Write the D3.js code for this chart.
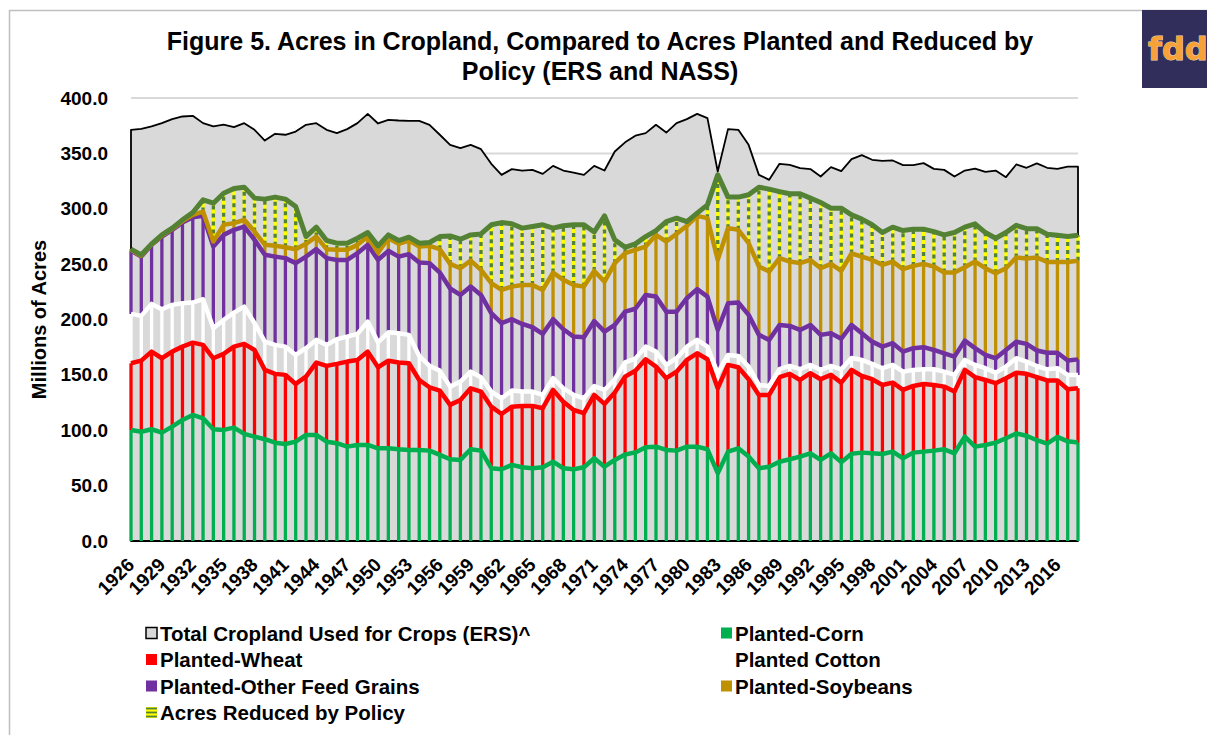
<!DOCTYPE html>
<html>
<head>
<meta charset="utf-8">
<script src="https://cdn.jsdelivr.net/npm/d3@7/dist/d3.min.js"></script>
<style>
    body { margin: 0; background: #fff; }
    svg text { font-family: "Liberation Sans", Arial, sans-serif; font-weight: bold; fill: #000; }
</style>
</head>
<body>
<svg id="chart" width="1207" height="735"></svg>
<script>
/*
 Data (millions of acres)
 */
var years = d3.range(1926, 2019);
var yTicks = [0, 50, 100, 150, 200, 250, 300, 350, 400];

var totalCropland = [
    371.3, 372.2, 374.3, 377.3, 380.9, 383.3, 383.9, 377.3, 374.3, 376.0,
    373.7, 377.3, 371.3, 361.6, 367.7, 366.8, 369.7, 375.8, 377.3, 371.3,
    368.3, 371.9, 377.3, 385.7, 377.0, 380.3, 379.7, 379.4, 379.4, 375.8,
    366.8, 357.7, 354.7, 357.7, 353.8, 340.6, 330.6, 335.8, 334.5, 335.1,
    331.5, 338.7, 334.5, 332.7, 330.6, 338.7, 334.5, 351.7, 360.0, 366.0,
    368.3, 375.8, 368.8, 377.3, 380.9, 385.7, 381.8, 333.6, 371.9, 371.3,
    357.7, 330.6, 326.1, 340.6, 339.7, 336.7, 335.8, 329.1, 337.6, 334.0,
    344.8, 348.4, 344.2, 343.3, 343.6, 339.4, 339.4, 341.2, 336.0, 335.1,
    329.1, 334.5, 336.3, 333.3, 334.5, 328.5, 340.0, 337.0, 341.0, 337.0,
    336.0, 338.0, 338.0];

var corn = [
    100.3, 98.7, 100.9, 97.8, 103.3, 109.3, 113.8, 110.8, 100.9, 100.3,
    102.4, 96.7, 94.2, 91.9, 88.8, 87.6, 89.7, 95.8, 95.8, 89.7,
    88.3, 85.2, 86.7, 86.7, 83.7, 83.7, 82.8, 82.2, 82.2, 81.6,
    77.7, 73.8, 73.2, 82.8, 81.6, 65.7, 64.8, 68.7, 66.6, 65.7,
    66.6, 71.6, 65.7, 64.8, 66.6, 74.7, 67.1, 73.2, 78.1, 80.0,
    84.6, 85.2, 82.2, 81.6, 85.2, 85.2, 82.8, 61.2, 80.7, 83.7,
    76.2, 65.7, 67.1, 71.6, 73.8, 76.2, 79.2, 73.2, 79.2, 71.2,
    78.8, 79.8, 79.2, 78.6, 80.7, 74.7, 79.8, 80.7, 81.6, 82.8,
    79.2, 94.2, 85.2, 86.7, 88.8, 92.8, 97.0, 95.0, 91.0, 88.0,
    94.0, 90.0, 89.0];

var wheat = [
    60.2, 64.2, 70.1, 67.2, 67.7, 66.2, 65.3, 66.3, 64.1, 68.6,
    73.1, 81.3, 78.3, 62.6, 62.1, 62.4, 52.1, 52.6, 65.3, 68.4,
    71.6, 76.8, 76.8, 84.3, 73.2, 79.1, 78.3, 78.3, 63.2, 57.2,
    58.1, 49.1, 54.2, 55.1, 53.3, 55.6, 49.9, 52.6, 55.4, 56.3,
    53.3, 64.8, 60.1, 53.5, 48.8, 57.2, 56.7, 60.8, 70.3, 73.7,
    79.5, 72.3, 64.8, 71.3, 78.3, 84.3, 81.3, 76.7, 78.3, 73.2,
    69.9, 66.2, 64.8, 76.3, 77.1, 69.2, 72.3, 72.9, 70.8, 71.8,
    75.7, 69.2, 66.9, 62.3, 62.3, 61.7, 60.2, 61.1, 59.3, 56.6,
    55.7, 60.3, 62.7, 58.7, 53.7, 54.2, 55.0, 56.0, 57.0, 57.0,
    51.0, 47.0, 49.0];

var cotton = [
    44.6, 40.4, 43.1, 44.3, 42.2, 39.2, 36.2, 41.2, 27.1, 30.7,
    30.7, 33.6, 24.2, 25.5, 26.2, 25.5, 26.2, 25.7, 20.5, 19.0,
    22.3, 22.6, 23.5, 27.1, 22.4, 25.6, 26.5, 25.6, 21.7, 19.3,
    18.0, 16.5, 16.5, 15.0, 13.0, 13.6, 14.2, 14.5, 12.9, 12.9,
    12.0, 10.6, 12.1, 13.6, 13.5, 8.0, 12.6, 12.1, 12.8, 11.0,
    11.4, 13.5, 12.0, 12.1, 12.0, 12.1, 11.4, 13.6, 9.0, 10.2,
    11.4, 9.0, 8.1, 7.2, 7.2, 9.7, 7.5, 8.4, 8.1, 12.0,
    10.8, 14.5, 13.8, 15.1, 16.0, 16.5, 14.5, 13.3, 14.2, 13.5,
    15.1, 9.0, 11.1, 10.6, 9.5, 10.5, 13.0, 11.0, 10.0, 10.0,
    11.0, 13.0, 12.0];

var feedGrains = [
    57.1, 53.5, 53.3, 65.6, 67.8, 72.8, 77.1, 75.3, 73.8, 76.8,
    74.8, 72.3, 75.2, 78.4, 79.7, 79.9, 82.9, 82.7, 81.9, 78.3,
    71.6, 69.2, 72.9, 69.3, 74.5, 73.6, 69.2, 72.9, 84.3, 92.8,
    88.6, 88.6, 78.3, 76.8, 74.3, 70.8, 67.8, 64.5, 61.1, 58.1,
    55.1, 53.3, 53.3, 52.7, 55.1, 58.7, 52.7, 49.0, 45.9, 45.0,
    46.7, 49.7, 48.1, 42.1, 43.7, 45.8, 45.2, 39.1, 46.7, 48.2,
    46.7, 45.2, 41.6, 40.0, 36.1, 35.5, 36.1, 31.6, 29.5, 27.6,
    29.8, 24.1, 20.1, 19.5, 19.6, 18.1, 19.6, 19.9, 17.4, 16.6,
    16.5, 17.4, 15.1, 12.0, 13.0, 15.0, 15.0, 16.0, 14.0, 15.0,
    14.0, 13.0, 14.0];

var soybeans = [
    0.8, 0.8, 0.5, 0.8, 0.8, 1.3, 2.1, 3.9, 4.5, 9.1,
    6.0, 6.1, 7.5, 9.0, 9.7, 9.9, 12.6, 11.5, 11.4, 8.1,
    9.1, 9.1, 7.5, 7.5, 6.6, 11.4, 11.5, 12.3, 14.5, 15.6,
    21.1, 22.2, 24.1, 23.5, 22.6, 27.1, 30.0, 29.4, 35.2, 38.2,
    39.7, 42.1, 44.6, 46.6, 45.7, 45.2, 45.1, 55.8, 52.8, 53.1,
    43.7, 55.7, 63.3, 70.2, 65.4, 66.2, 70.8, 63.2, 67.8, 65.7,
    64.7, 61.7, 61.7, 60.3, 58.1, 60.3, 58.7, 60.2, 62.6, 61.4,
    64.5, 69.2, 73.8, 73.8, 73.7, 74.4, 74.3, 75.2, 75.3, 72.9,
    75.9, 66.3, 78.2, 78.3, 76.8, 73.8, 76.0, 77.0, 84.0, 82.0,
    82.0, 89.0, 89.0];

var reducedByPolicy = [
    0.5, 0.8, 0.4, 0.7, 0.7, 1.2, 2.1, 10.5, 34.6, 28.5,
    31.3, 29.5, 30.2, 41.3, 44.0, 43.4, 38.5, 6.6, 8.5, 7.8,
    6.0, 6.0, 6.0, 3.6, 6.1, 3.0, 3.0, 3.0, 3.0, 3.0,
    11.4, 25.3, 26.2, 23.2, 32.5, 52.7, 60.8, 56.7, 51.3, 52.7,
    58.8, 40.1, 48.8, 54.3, 55.8, 35.2, 59.4, 21.0, 5.3, 5.5,
    9.0, 3.9, 18.0, 14.2, 3.8, 2.4, 12.0, 76.8, 28.0, 29.5,
    43.7, 71.7, 74.4, 60.1, 61.2, 62.6, 55.8, 59.3, 50.3, 56.5,
    34.9, 33.8, 31.7, 29.2, 31.1, 34.9, 33.2, 31.4, 31.6, 34.0,
    36.1, 36.2, 34.1, 32.2, 31.6, 32.2, 29.0, 27.0, 26.0, 25.0,
    24.0, 23.0, 23.0];

/*
 Layout and styles
 */
var PLOT_LEFT = 131, PLOT_RIGHT = 1078, PLOT_TOP = 98, PLOT_BOTTOM = 541;
var GREY = '#d9d9d9';
var STRIPE_WIDTH = 3.3;

var SERIES = [
    {key: 'corn', name: 'Planted-Corn', color: '#00b050'},
    {key: 'wheat', name: 'Planted-Wheat', color: '#ff0000'},
    {key: 'cotton', name: 'Planted Cotton', color: '#ffffff'},
    {key: 'feed', name: 'Planted-Other Feed Grains', color: '#7030a0'},
    {key: 'soy', name: 'Planted-Soybeans', color: '#bf9000'},
    {key: 'reduced', name: 'Acres Reduced by Policy', color: '#548235', dash: '#ffff00'}
];

var table = years.map(function (yr, i) {
    return {
        year: yr, corn: corn[i], wheat: wheat[i], cotton: cotton[i],
        feed: feedGrains[i], soy: soybeans[i], reduced: reducedByPolicy[i],
        total: totalCropland[i]
    };
});

var svg = d3.select('#chart');

var x = d3.scalePoint().domain(years).range([PLOT_LEFT, PLOT_RIGHT]);
var y = d3.scaleLinear().domain([0, 400]).range([PLOT_BOTTOM, PLOT_TOP]);

/*
 Frame, title, logo
 */
svg.append('rect')
    .attr('x', 9.5).attr('y', 10.5)
    .attr('width', 1300).attr('height', 800)
    .attr('fill', '#fff')
    .attr('stroke', '#bfbfbf')
    .attr('stroke-width', 1.5);

svg.append('text')
    .attr('x', 600).attr('y', 50)
    .attr('text-anchor', 'middle')
    .style('font-size', '25px')
    .text('Figure 5. Acres in Cropland, Compared to Acres Planted and Reduced by');
svg.append('text')
    .attr('x', 600).attr('y', 80)
    .attr('text-anchor', 'middle')
    .style('font-size', '25px')
    .text('Policy (ERS and NASS)');

svg.append('rect')
    .attr('x', 1142).attr('y', 10)
    .attr('width', 70).attr('height', 78)
    .attr('fill', '#312e5b');
svg.append('text')
    .attr('x', 1148).attr('y', 60)
    .style('font-family', '"DejaVu Sans", sans-serif')
    .style('font-size', '32px')
    .style('fill', '#f7a238')
    .style('stroke', '#f3d8b0')
    .style('stroke-width', 1)
    .style('paint-order', 'stroke')
    .text('fdd');

/*
 Gridlines
 */
svg.append('g').classed('grid', true)
    .selectAll('line')
    .data(yTicks)
    .enter().append('line')
    .attr('x1', PLOT_LEFT).attr('x2', PLOT_RIGHT)
    .attr('y1', function (d) { return y(d); })
    .attr('y2', function (d) { return y(d); })
    .attr('stroke', GREY)
    .attr('stroke-width', 2);

/*
 Total cropland area (behind)
 */
var totalArea = d3.area()
    .x(function (d) { return x(d.year); })
    .y0(y(0))
    .y1(function (d) { return y(d.total); });

svg.append('path')
    .datum(table)
    .attr('d', function (d) { return totalArea(d) + 'Z'; })
    .attr('fill', GREY)
    .attr('stroke', '#000')
    .attr('stroke-width', 1.8)
    .attr('stroke-linejoin', 'round');

/*
 Stacked planted areas, striped
 */
var stack = d3.stack().keys(SERIES.map(function (s) { return s.key; }));
var layers = stack(table);

var stripes = svg.append('g').classed('stripes', true)
    .selectAll('g')
    .data(layers)
    .enter().append('g');

stripes.each(function (layer, k) {
    var s = SERIES[k];
    var g = d3.select(this);
    g.selectAll('line.base')
        .data(layer)
        .enter().append('line')
        .classed('base', true)
        .attr('x1', function (d) { return x(d.data.year); })
        .attr('x2', function (d) { return x(d.data.year); })
        .attr('y1', function (d) { return y(d[0]); })
        .attr('y2', function (d) { return y(d[1]); })
        .attr('stroke', s.dash ? s.dash : s.color)
        .attr('stroke-width', STRIPE_WIDTH);
    if (s.dash) {
        g.selectAll('line.dash')
            .data(layer)
            .enter().append('line')
            .classed('dash', true)
            .attr('x1', function (d) { return x(d.data.year); })
            .attr('x2', function (d) { return x(d.data.year); })
            .attr('y1', function (d) { return y(d[0]); })
            .attr('y2', function (d) { return y(d[1]); })
            .attr('stroke', s.color)
            .attr('stroke-width', STRIPE_WIDTH)
            .attr('stroke-dasharray', '4,4');
    }
});

var topLine = d3.line()
    .x(function (d) { return x(d.data.year); })
    .y(function (d) { return y(d[1]); });

svg.append('g').classed('tops', true)
    .selectAll('path')
    .data(layers)
    .enter().append('path')
    .attr('d', topLine)
    .attr('fill', 'none')
    .attr('stroke', function (d, k) { return SERIES[k].color; })
    .attr('stroke-width', function (d, k) { return SERIES[k].dash ? 5 : 4.5; })
    .attr('stroke-linejoin', 'round');

/*
 Axes
 */
var yAxis = svg.append('g')
    .attr('transform', 'translate(' + PLOT_LEFT + ',0)')
    .call(d3.axisLeft(y).tickValues(yTicks).tickFormat(d3.format('.1f')).tickSize(0).tickPadding(23));
yAxis.select('.domain').remove();
yAxis.selectAll('text')
    .style('font-size', '19px')
    .style('font-family', '"Liberation Sans", Arial, sans-serif');

var labelYears = years.filter(function (d) { return (d - 1926) % 3 === 0; });
var xAxis = svg.append('g')
    .attr('transform', 'translate(0,' + PLOT_BOTTOM + ')')
    .call(d3.axisBottom(x).tickValues(labelYears).tickSize(0));
xAxis.select('.domain').remove();
xAxis.selectAll('text')
    .attr('x', 0).attr('y', 0).attr('dy', 0)
    .attr('text-anchor', 'end')
    .attr('transform', 'translate(4,25) rotate(-45)')
    .style('font-size', '19px')
    .style('font-family', '"Liberation Sans", Arial, sans-serif');

svg.append('text')
    .attr('transform', 'translate(46,' + ((PLOT_TOP + PLOT_BOTTOM) / 2) + ') rotate(-90)')
    .attr('text-anchor', 'middle')
    .style('font-size', '20px')
    .text('Millions of Acres');

/*
 Legend
 */
var legendItems = [
    {name: 'Total Cropland Used for Crops (ERS)^', fill: GREY, stroke: '#000', col: 0, row: 0},
    {name: SERIES[0].name, fill: SERIES[0].color, col: 1, row: 0},
    {name: SERIES[1].name, fill: SERIES[1].color, col: 0, row: 1},
    {name: SERIES[2].name, fill: SERIES[2].color, col: 1, row: 1},
    {name: SERIES[3].name, fill: SERIES[3].color, col: 0, row: 2},
    {name: SERIES[4].name, fill: SERIES[4].color, col: 1, row: 2},
    {name: SERIES[5].name, fill: SERIES[5].dash, lines: SERIES[5].color, col: 0, row: 3}
];

var legend = svg.append('g').classed('legend', true)
    .selectAll('g')
    .data(legendItems)
    .enter().append('g')
    .attr('transform', function (d) {
        return 'translate(' + (d.col === 0 ? 146 : 721) + ',' + (633 + d.row * 26.5) + ')';
    });

legend.append('rect')
    .attr('x', 0).attr('y', -5.5)
    .attr('width', 11).attr('height', 11)
    .attr('fill', function (d) { return d.fill; })
    .attr('stroke', function (d) { return d.stroke || 'none'; })
    .attr('stroke-width', 1.5);

legend.filter(function (d) { return d.lines; })
    .selectAll('line')
    .data(function (d) { return [-4, 0, 4].map(function (v) { return {y: v, c: d.lines}; }); })
    .enter().append('line')
    .attr('x1', 0).attr('x2', 11)
    .attr('y1', function (d) { return d.y; })
    .attr('y2', function (d) { return d.y; })
    .attr('stroke', function (d) { return d.c; })
    .attr('stroke-width', 1.8);

legend.append('text')
    .attr('x', 14).attr('y', 7.5)
    .style('font-size', '20.5px')
    .text(function (d) { return d.name; });
</script>
</body>
</html>
